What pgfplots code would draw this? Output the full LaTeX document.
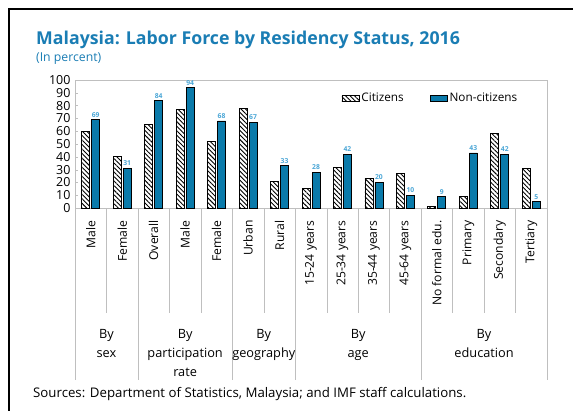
\documentclass[border=0pt]{standalone}
\usepackage{fontspec}
\setmainfont{Open Sans}
\usepackage{pgfplots}
\pgfplotsset{compat=1.18}
\usetikzlibrary{patterns,patterns.meta}
\definecolor{titleblue}{HTML}{1A7DB4}
\definecolor{barblue}{HTML}{0A7AAA}
\definecolor{lblblue}{HTML}{4AA6D6}
\definecolor{axgray}{HTML}{BFBFBF}
\begin{document}
\begin{tikzpicture}
\useasboundingbox (0bp,0bp) rectangle (573bp,411bp);
\draw[line width=2bp] (9bp,0bp) -- (9bp,402bp) -- (573bp,402bp);
\node[anchor=base west, inner sep=0, text=titleblue, font=\fontsize{17.8}{20}\selectfont\bfseries] at (36bp,366bp) {Malaysia: Labor Force by Residency Status, 2016};
\node[anchor=base west, inner sep=0, text=titleblue, font=\fontsize{12.3}{14}\selectfont] at (36bp,349bp) {(In percent)};
\node[anchor=base west, inner sep=0, font=\fontsize{13.3}{15}\selectfont] at (33bp,14bp) {Sources: Department of Statistics, Malaysia; and IMF staff calculations.};
\begin{axis}[
  at={(75bp,203bp)}, anchor=south west, scale only axis,
  width=472bp, height=128bp,
  xmin=-0.5, xmax=14.5, ymin=0, ymax=100,
  ytick={0,10,...,100},
  xtick={0,...,14},
  xticklabels={Male,Female,Overall,Male,Female,Urban,Rural,15-24 years,25-34 years,35-44 years,45-64 years,No formal edu.,Primary,Secondary,Tertiary},
  x tick label style={rotate=90, anchor=east, font=\fontsize{12.2}{14}\selectfont, xshift=-6bp},
  y tick label style={font=\fontsize{12.5}{14}\selectfont, xshift=-1bp},
  /pgf/number format/assume math mode=true,
  x tick style={draw=none},
  y tick style={axgray},
  major tick length=3bp, tick align=inside,
  ytick pos=left,
  axis line style={axgray},
  ybar, bar width=8bp,
  clip=false,
  legend style={draw=none, fill=none, at={(0.558,0.93)}, anchor=north west, legend columns=2, font=\fontsize{11.8}{13}\selectfont, /tikz/every even column/.append style={column sep=24bp}},
  legend cell align=left,
  area legend,
]
\addplot[bar shift=-5bp, draw=black, line width=0.8bp, pattern={Lines[angle=-45,distance=3.2bp,line width=0.9bp]}, pattern color=black] coordinates {
(0,60) (1,40) (2,65) (3,77) (4,52) (5,78) (6,21) (7,15) (8,32) (9,23) (10,27) (11,1) (12,9) (13,58) (14,31)};
\addplot[bar shift=5bp, draw=black, line width=0.8bp, fill=barblue, nodes near coords, nodes near coords style={text=lblblue, font=\fontsize{6.8}{7}\selectfont\bfseries, inner sep=2bp}] coordinates {
(0,69) (1,31) (2,84) (3,94) (4,68) (5,67) (6,33) (7,28) (8,42) (9,20) (10,10) (11,9) (12,43) (13,42) (14,5)};
\legend{Citizens,Non-citizens}
\pgfplotsinvokeforeach{0.5,2.5,3.5,5.5,7.5,8.5,9.5,11.5,12.5,13.5}{
  \draw[axgray] (axis cs:#1,0) -- ([yshift=-105bp]axis cs:#1,0);
}
\pgfplotsinvokeforeach{-0.5,1.5,4.5,6.5,10.5,14.5}{
  \draw[axgray] (axis cs:#1,0) -- ([yshift=-172bp]axis cs:#1,0);
}
\begin{scope}[every node/.style={align=center, anchor=north, font=\fontsize{12.8}{19}\selectfont, inner sep=0}]
\node at ([yshift=-121bp]axis cs:0.5,0) {By\\sex};
\node at ([yshift=-121bp]axis cs:3,0) {By\\participation\\rate};
\node at ([yshift=-121bp]axis cs:5.5,0) {By\\geography};
\node at ([yshift=-121bp]axis cs:8.5,0) {By\\age};
\node at ([yshift=-121bp]axis cs:12.5,0) {By\\education};
\end{scope}
\end{axis}
\end{tikzpicture}
\end{document}
